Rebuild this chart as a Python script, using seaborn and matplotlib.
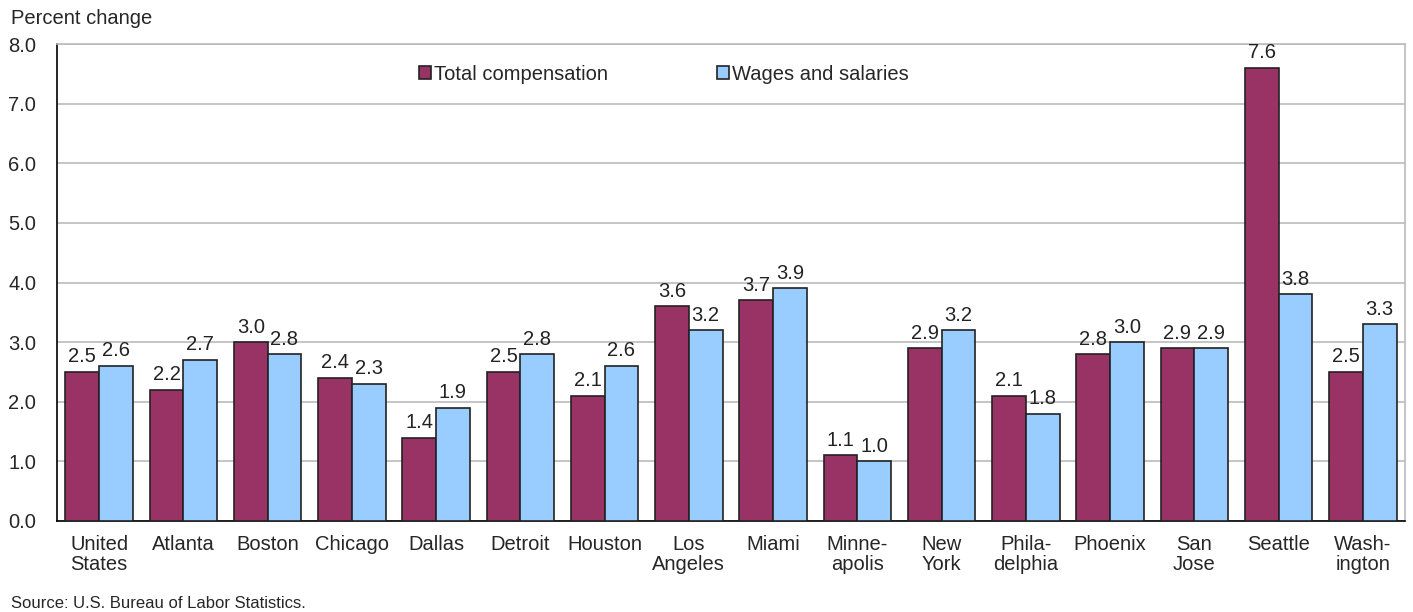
import pandas as pd
import matplotlib.pyplot as plt
import seaborn as sns

# categories and values
cities = ["United\nStates", "Atlanta", "Boston", "Chicago", "Dallas", "Detroit", "Houston",
          "Los\nAngeles", "Miami", "Minne-\napolis", "New\nYork", "Phila-\ndelphia",
          "Phoenix", "San\nJose", "Seattle", "Wash-\nington"]
total_comp = [2.5, 2.2, 3.0, 2.4, 1.4, 2.5, 2.1, 3.6, 3.7, 1.1, 2.9, 2.1, 2.8, 2.9, 7.6, 2.5]
wages = [2.6, 2.7, 2.8, 2.3, 1.9, 2.8, 2.6, 3.2, 3.9, 1.0, 3.2, 1.8, 3.0, 2.9, 3.8, 3.3]
series = ["Total compensation", "Wages and salaries"]
colors = ["#993366", "#99CCFF"]

df = pd.DataFrame({"city": cities * 2,
                   "value": total_comp + wages,
                   "series": [series[0]] * len(cities) + [series[1]] * len(cities)})

sns.set_style("white")
plt.rcParams['font.family'] = ['Liberation Sans', 'DejaVu Sans']
fs = 14.5

fig = plt.figure(figsize=(14.13, 6.12), dpi=100)
ax = fig.add_axes([0.0403, 0.1487, 0.954, 0.7793])

sns.barplot(data=df, x="city", y="value", hue="series", palette=colors, width=0.8,
            edgecolor="#222222", linewidth=1.2, saturation=1, ax=ax, zorder=3)

# data labels
for cont in ax.containers:
    ax.bar_label(cont, fmt="%.1f", padding=4, fontsize=fs, color="#222222")

ax.set_ylim(0, 8)
ax.set_yticks([0, 1, 2, 3, 4, 5, 6, 7, 8])
ax.set_yticklabels([f"{v:.1f}" for v in range(9)], fontsize=fs)
ax.set_xlim(-0.5, len(cities) - 0.5)
ax.tick_params(axis="x", labelsize=fs, length=0, pad=10)
ax.tick_params(axis="y", length=0, pad=15)
for lab in ax.get_xticklabels():
    lab.set_linespacing(1.05)
ax.grid(axis="y", color="#BBBBBB", linewidth=1.2, zorder=0)
ax.set_xlabel("")
ax.set_ylabel("")

for s in ["top", "right"]:
    ax.spines[s].set_color("#BBBBBB")
    ax.spines[s].set_linewidth(1.2)
for s in ["left", "bottom"]:
    ax.spines[s].set_color("#000000")
    ax.spines[s].set_linewidth(1.2)

leg = ax.legend(loc="upper center", bbox_to_anchor=(0.45, 0.995), ncol=2, frameon=False,
                fontsize=fs, handlelength=0.6, handleheight=0.6, handletextpad=0.15,
                columnspacing=5.4)

fig.text(0.008, 0.97, "Percent change", fontsize=fs, ha="left", va="center")
fig.text(0.008, 0.014, "Source: U.S. Bureau of Labor Statistics.", fontsize=12,
         ha="left", va="center")

fig.savefig("out.png", dpi=100)
